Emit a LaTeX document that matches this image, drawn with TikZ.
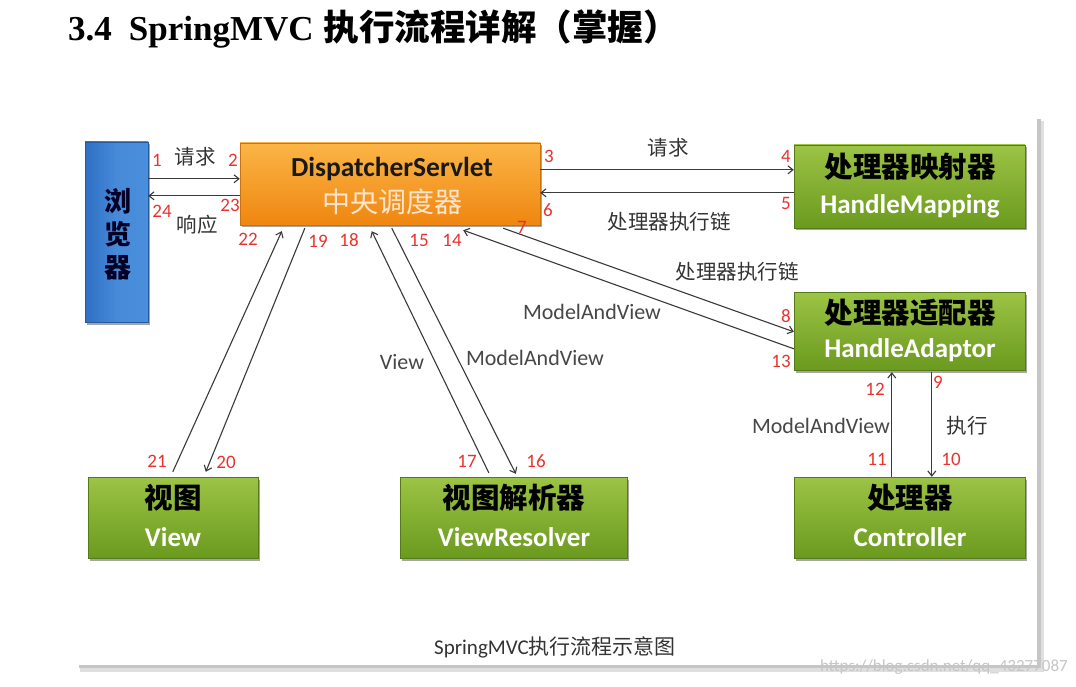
\documentclass[tikz,border=0pt]{standalone}
\usepackage{fontspec}
\setmainfont{Carlito}
\newfontfamily\cjk{Noto Sans CJK SC}
\newfontfamily\serif{Liberation Serif}
\usetikzlibrary{arrows.meta,shadows,calc}
\definecolor{grtop}{HTML}{9CC445}
\definecolor{grbot}{HTML}{6A9A1E}
\definecolor{ortop}{HTML}{FBB547}
\definecolor{orbot}{HTML}{EF8610}
\definecolor{blleft}{HTML}{2F6FC4}
\definecolor{blright}{HTML}{4A8FDC}
\definecolor{numred}{HTML}{E8332E}
\definecolor{linec}{HTML}{3A3A3A}
\definecolor{labc}{HTML}{333333}
\begin{document}
\begin{tikzpicture}[x=1pt,y=-1pt,
  boxshadow/.style={drop shadow={shadow xshift=2pt,shadow yshift=-2.5pt,opacity=0.35,fill=black}},
  gbox/.style={rectangle,inner sep=0pt,top color=grtop,bottom color=grbot,draw=grbot!80!black,line width=0.4pt,boxshadow},
  cjkb/.style={font=\cjk\bfseries\fontsize{28.5}{30}\selectfont,text=black,inner sep=0pt},
  engw/.style={font=\bfseries\fontsize{27}{29}\selectfont,text=white,inner sep=0pt},
  num/.style={font=\fontsize{19}{21}\selectfont,text=numred,inner sep=0pt},
  lab/.style={font=\cjk\fontsize{20.5}{22}\selectfont,text=labc,inner sep=0pt},
  mav/.style={font=\fontsize{22}{24}\selectfont,text=labc!90!white,inner sep=0pt},
  arr/.style={draw=linec,line width=1.1pt,-{Straight Barb[length=5pt,width=8pt]}}]
\useasboundingbox (0,0) rectangle (1076,687);
\fill[white] (0,0) rectangle (1076,687);
% title
\node[anchor=west,inner sep=0pt] (title) at (68,29)
  {\serif\bfseries\fontsize{35}{37}\selectfont 3.4\hspace{17pt}SpringMVC\hspace{10pt}{\cjk\fontsize{35.5}{37}\selectfont 执行流程详解（掌握）}};
% panel with shadow
\fill[gray!25] (80,121) rectangle (1044,672);
\fill[gray!45] (79,119) rectangle (1041,668);
\fill[white] (75,115) rectangle (1037,665);
% boxes
\node[rectangle,inner sep=0pt,minimum width=63pt,minimum height=180pt,left color=blleft,right color=blright,middle color=blright!85!blleft,draw=blleft!80!black,line width=0.4pt,boxshadow] (browser) at (116.5,232) {};
\node[rectangle,inner sep=0pt,minimum width=300pt,minimum height=82pt,top color=ortop,bottom color=orbot,draw=orbot!85!black,line width=0.4pt,boxshadow] (ds) at (390,184) {};
\node[gbox,minimum width=231pt,minimum height=83pt] (hm) at (909.5,186.5) {};
\node[gbox,minimum width=231pt,minimum height=78pt] (ha) at (909.5,331) {};
\node[gbox,minimum width=231pt,minimum height=81pt] (ctrl) at (909.5,517.5) {};
\node[gbox,minimum width=170pt,minimum height=81pt] (view) at (173,517.5) {};
\node[gbox,minimum width=227pt,minimum height=81pt] (vr) at (513.5,517.5) {};
% box texts
\node[font=\cjk\bfseries\fontsize{27}{29}\selectfont,text=black!85!blue,inner sep=0pt,align=center] (brT) at (118,234) {浏\\[4pt]览\\[4pt]器};
\node[font=\bfseries\fontsize{27.5}{29}\selectfont,text=black!90,inner sep=0pt] (dsT1) at (392,169) {DispatcherServlet};
\node[font=\cjk\fontsize{28}{30}\selectfont,text=orange!20!white,inner sep=0pt] (dsT2) at (392,202) {中央调度器};
\node[cjkb] (hmT1) at (910,167) {处理器映射器};
\node[engw] (hmT2) at (910,206) {HandleMapping};
\node[cjkb] (haT1) at (910,313) {处理器适配器};
\node[engw] (haT2) at (910,350) {HandleAdaptor};
\node[cjkb] (ctT1) at (910,498) {处理器};
\node[engw] (ctT2) at (910,537) {Controller};
\node[cjkb] (vwT1) at (173,498) {视图};
\node[engw] (vwT2) at (173,537) {View};
\node[cjkb] (vrT1) at (514,498) {视图解析器};
\node[engw] (vrT2) at (514,537) {ViewResolver};
% connectors
\draw[arr] ($(browser.north east)+(0,37)$) -- ($(ds.north west)+(0,36)$);
\draw[arr] ($(ds.north west)+(0,53)$) -- ($(browser.north east)+(0,54)$);
\draw[arr] ($(ds.north east)+(0,27)$) -- ($(hm.north west)+(0,25)$);
\draw[arr] ($(hm.north west)+(0,48)$) -- ($(ds.north east)+(0,50)$);
\draw[arr] ($(ds.south east)+(-37,3)$) -- ($(ha.north west)+(0,40)$);
\draw[arr] ($(ha.north west)+(0,57)$) -- ($(ds.south east)+(-77,5)$);
\draw[arr] ($(ds.south west)+(152,3)$) -- ($(vr.north west)+(116,-3)$);
\draw[arr] ($(vr.north west)+(89,-4)$) -- ($(ds.south west)+(132,6)$);
\draw[arr] ($(ds.south west)+(65,3)$) -- ($(view.north west)+(118,-5)$);
\draw[arr] ($(view.north west)+(85,-5)$) -- ($(ds.south west)+(42,6)$);
\draw[arr] ($(ha.south west)+(138,2)$) -- ($(ctrl.north west)+(138,0)$);
\draw[arr] ($(ctrl.north west)+(98,0)$) -- ($(ha.south west)+(98,2)$);
% labels
\node[num] (n1) at (157,160) {1};
\node[lab] (l1) at (195,157) {请求};
\node[num] (n2) at (233,160) {2};
\node[num] (n24) at (162,211) {24};
\node[lab] (l24) at (197,225) {响应};
\node[num] (n23) at (230,205) {23};
\node[num] (n3) at (549,156) {3};
\node[lab] (l3) at (668,148) {请求};
\node[num] (n4) at (786,156) {4};
\node[num] (n6) at (548,210) {6};
\node[lab] (l5) at (669,222) {处理器执行链};
\node[num] (n5) at (786,203) {5};
\node[num] (n7) at (522,227) {7};
\node[lab] (l7) at (737,272) {处理器执行链};
\node[num] (n8) at (786,316) {8};
\node[mav] (l13) at (592,312) {ModelAndView};
\node[num] (n13) at (781,361) {13};
\node[num] (n22) at (248,239) {22};
\node[num] (n19) at (318,241) {19};
\node[num] (n18) at (349,240) {18};
\node[num] (n15) at (419,240) {15};
\node[num] (n14) at (452,240) {14};
\node[mav] (l17) at (402,362) {View};
\node[mav] (l15) at (535,358) {ModelAndView};
\node[num] (n21) at (157,461) {21};
\node[num] (n20) at (226,462) {20};
\node[num] (n17) at (467,461) {17};
\node[num] (n16) at (536,461) {16};
\node[num] (n12) at (875,389) {12};
\node[num] (n9) at (938,382) {9};
\node[mav] (l11) at (821,426) {ModelAndView};
\node[lab] (l9) at (967,426) {执行};
\node[num] (n11) at (877,459) {11};
\node[num] (n10) at (951,459) {10};
% caption and watermark
\node[font=\fontsize{21}{23}\selectfont,text=black!80,inner sep=0pt] (cap) at (555,647) {SpringMVC{\cjk 执行流程示意图}};
\node[font=\fontsize{17}{19}\selectfont,text=gray!45,inner sep=0pt,anchor=east] (wm) at (1068,667) {https://blog.csdn.net/qq\_43277087};
\end{tikzpicture}
\end{document}
